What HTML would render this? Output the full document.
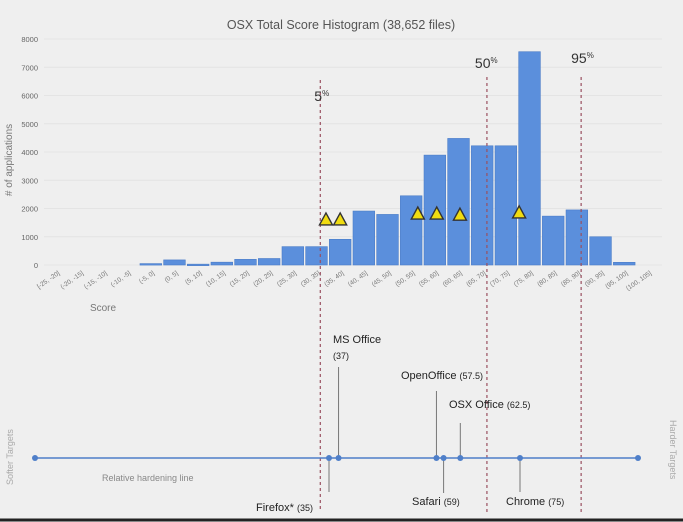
<!DOCTYPE html>
<html><head><meta charset="utf-8"><style>
body{margin:0;background:#efefef;}
svg{display:block;font-family:"Liberation Sans",sans-serif;}
</style></head><body>
<svg id="c" width="683" height="522">
<rect width="683" height="522" fill="#efefef"/>
<text x="341" y="29" text-anchor="middle" font-size="12.5" fill="#555">OSX Total Score Histogram (38,652 files)</text>
<text transform="translate(12,160) rotate(-90)" text-anchor="middle" font-size="10" fill="#777"># of applications</text>
<text x="103" y="311" text-anchor="middle" font-size="10" fill="#777">Score</text>
<g id="grid"></g><g id="bars"></g><g id="xl"></g><g id="yl"></g><g id="marks"></g><g id="tl"></g>
<line x1="0" y1="520" x2="683" y2="520" stroke="#222" stroke-width="3"/>
<text transform="translate(13,485) rotate(-90)" font-size="9" fill="#aaa">Softer Targets</text>
<text transform="translate(670,420) rotate(90)" font-size="9" fill="#aaa">Harder Targets</text>
<text x="102" y="481" font-size="9" fill="#888">Relative hardening line</text>
</svg>
<script>
const categories=["[-25, -20]","(-20, -15]","(-15, -10]","(-10, -5]","(-5, 0]","(0, 5]","(5, 10]","(10, 15]","(15, 20]","(20, 25]","(25, 30]","(30, 35]","(35, 40]","(40, 45]","(45, 50]","(50, 55]","(55, 60]","(60, 65]","(65, 70]","(70, 75]","(75, 80]","(80, 85]","(85, 90]","(90, 95]","(95, 100]","(100, 105]"];
const counts=[0,0,0,0,50,180,30,100,200,230,650,650,910,1910,1790,2450,3890,4480,4220,4220,7550,1730,1950,1000,95,0];
const yTicks=[0,1000,2000,3000,4000,5000,6000,7000,8000];
const percentiles=[{label:"5",score:33.3},{label:"50",score:68.5},{label:"95",score:88.4}];
const markerScores=[34.5,37.5,53.9,57.9,62.8,75.3];
const markerHeights=[1630,1630,1840,1840,1800,1880];
const apps=["Firefox*","MS Office","OpenOffice","Safari","OSX Office","Chrome"];
const appScores=[35,37,57.5,59,62.5,75];
const appStem=[34,-91,-67,35,-35,34];

const NS="http://www.w3.org/2000/svg";
function mk(t,a,p,txt){const e=document.createElementNS(NS,t);for(const k in a)e.setAttribute(k,a[k]);if(txt!==undefined)e.textContent=txt;document.getElementById(p).appendChild(e);return e;}
const X0=44.3,CW=23.67,Y0=265,PY=28.25/1000;
const xCat=i=>X0+i*CW;
const xScore=s=>X0+(s+25)/5*CW;
const y=v=>Y0-v*PY;
const LX=s=>329+(s-35)*4.775;
const LY=458;

yTicks.forEach(t=>{
 const g=mk("line",{x1:44,x2:662,y1:y(t),y2:y(t),stroke:"#e4e4e4","stroke-width":1},"grid");
 
 
 const l=mk("text",{x:38,y:y(t)+3,"text-anchor":"end","font-size":7.5,fill:"#666"},"yl",t);
 
 
});
categories.forEach((c,i)=>{
 const v=counts[i];
 if(v>0){const r=mk("rect",{x:xCat(i)+1,y:y(v),width:CW-2,height:Math.max(1.5,Y0-y(v)),fill:"#5b8fdc",stroke:"#4a7cc7","stroke-width":0.6},"bars");
 
 }
 const cx=xCat(i)+CW/2+4;
 const t=mk("text",{transform:`translate(${cx},274) rotate(-35)`,"text-anchor":"end","font-size":6.5,fill:"#777"},"xl",c);
 
 
});
percentiles.forEach((p,i)=>{
 const x=xScore(p.score);
 const top=[80,77,77][i];
 const ln=mk("line",{x1:x,x2:x,y1:top,y2:512,stroke:"#9a5060","stroke-width":1.2,"stroke-dasharray":"3,3"},"marks");
 
 
 const tx=[x-6,x-12,x-10][i], ty=[101,68,63][i];
 const t=mk("text",{x:tx,y:ty,"font-size":14,fill:"#333"},"marks");
 t.innerHTML=p.label+'<tspan font-size="8" dy="-5">%</tspan>';
 
 
});
markerScores.forEach((s,i)=>{
 const x=xScore(s),yy=y(markerHeights[i]);
 const tri=mk("polygon",{points:`${x-6.5},${yy+6} ${x+6.5},${yy+6} ${x},${yy-6}`,fill:"#f0dc10",stroke:"#333","stroke-width":1.4},"marks");
 
 
});
const hl=mk("line",{x1:35,x2:638,y1:LY,y2:LY,stroke:"#4f7fc9","stroke-width":1.6},"tl");


[35,638].forEach(x=>{const d=mk("circle",{cx:x,cy:LY,r:3,fill:"#4f7fc9"},"tl");
 
 });
apps.forEach((a,i)=>{
 const x=LX(appScores[i]);
 const st=mk("line",{x1:x,x2:x,y1:LY,y2:LY+appStem[i],stroke:"#777","stroke-width":1},"tl");
 
 
 const d=mk("circle",{cx:x,cy:LY,r:3,fill:"#4f7fc9"},"tl");
 
 
});
function lab(x,yy,main,sub,name,anchor){
 const t=mk("text",{x:x,y:yy,"font-size":11,fill:"#222","text-anchor":anchor||"start"},"tl");
 t.innerHTML=main+(sub?' <tspan font-size="9">'+sub+'</tspan>':'');
 
 
}
lab(256,511,"Firefox*","(35)","firefox-label");
lab(333,343,"MS Office","","ms-office-label");
lab(333,359,"","<tspan font-size='9'>(37)</tspan>","ms-office-score");
lab(401,379,"OpenOffice","(57.5)","openoffice-label");
lab(449,408,"OSX Office","(62.5)","osx-office-label");
lab(412,505,"Safari","(59)","safari-label");
lab(506,505,"Chrome","(75)","chrome-label");
</script>
</body></html>
